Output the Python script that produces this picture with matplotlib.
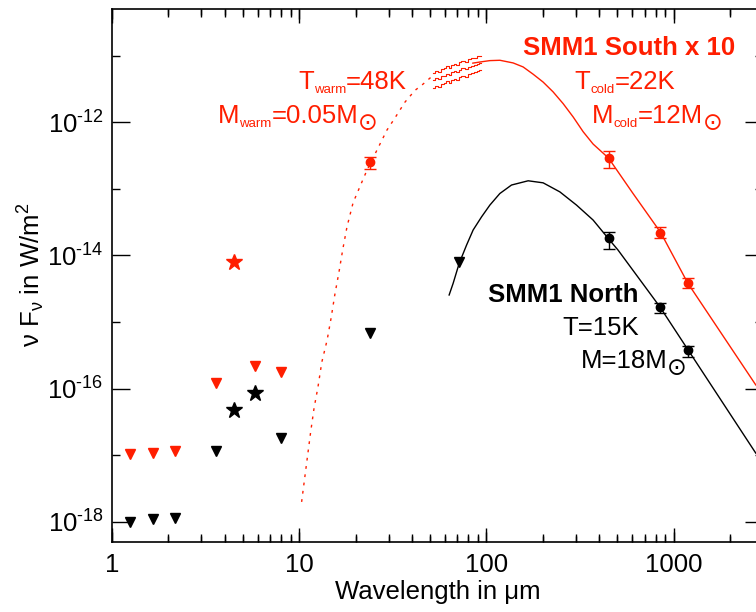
import matplotlib
matplotlib.use("Agg")
import matplotlib.pyplot as plt
import matplotlib.transforms as mtransforms
from matplotlib.ticker import NullFormatter, FixedLocator
import numpy as np

plt.rcParams['font.family'] = ['Liberation Sans', 'DejaVu Sans']
plt.rcParams['mathtext.fontset'] = 'custom'
plt.rcParams['mathtext.rm'] = 'Liberation Sans'
plt.rcParams['mathtext.it'] = 'Liberation Sans:italic'
plt.rcParams['mathtext.bf'] = 'Liberation Sans:bold'

RED = '#ff1e00'

# upper limits (downward triangles)
lim_wave_N = [1.25, 1.65, 2.17, 3.6, 8.0, 24.0, 71.0]
lim_flux_N = [1.0e-18, 1.1e-18, 1.15e-18, 1.15e-17, 1.85e-17, 6.9e-16, 7.9e-15]
lim_wave_S = [1.25, 1.65, 2.17, 3.6, 5.8, 8.0]
lim_flux_S = [1.05e-17, 1.1e-17, 1.15e-17, 1.2e-16, 2.2e-16, 1.8e-16]

# detections shown as stars
star_wave_N = [4.5, 5.8]
star_flux_N = [4.8e-17, 8.5e-17]
star_wave_S = [4.5]
star_flux_S = [8.0e-15]

# photometry with error bars
phot_wave_S = [24.0, 450.0, 850.0, 1200.0]
phot_flux_S = [2.5e-13, 2.9e-13, 2.2e-14, 3.9e-15]
phot_lo_S = [1.97e-13, 2.05e-13, 1.82e-14, 3.2e-15]
phot_hi_S = [3.0e-13, 3.7e-13, 2.67e-14, 4.6e-15]
phot_wave_N = [450.0, 850.0, 1200.0]
phot_flux_N = [1.8e-14, 1.67e-15, 3.8e-16]
phot_lo_N = [1.26e-14, 1.39e-15, 3.0e-16]
phot_hi_N = [2.24e-14, 1.95e-15, 4.4e-16]

# model curves
warm_wave = [10.3, 10.7, 11.1, 11.5, 12.0, 12.6, 13.2, 14.1, 14.8, 15.5, 16.3, 17.1,
             18.0, 19.4, 21.6, 23.0, 26.0, 29.4, 32.4, 36.7, 41.5, 45.7, 51.7]
warm_flux = [2.0e-18, 4.6e-18, 1.02e-17, 2.2e-17, 5.1e-17, 1.07e-16, 2.5e-16, 5.4e-16,
             1.15e-15, 2.6e-15, 5.6e-15, 1.25e-14, 2.7e-14, 6.2e-14, 1.26e-13, 1.9e-13,
             3.8e-13, 7.6e-13, 1.15e-12, 2.0e-12, 3.0e-12, 3.7e-12, 5.0e-12]
cold_wave = [84.6, 92.2, 104.3, 118, 138.9, 157, 177.6, 200.8, 227, 256.8, 290.4, 328.4,
             371.2, 448.6, 605, 853, 1189, 2744]
cold_flux = [7.7e-12, 8.0e-12, 8.4e-12, 8.5e-12, 7.75e-12, 6.75e-12, 5.25e-12, 4.0e-12,
             2.85e-12, 1.9e-12, 1.2e-12, 7.2e-13, 4.7e-13, 2.9e-13, 8.6e-14, 2.2e-14,
             3.85e-15, 1.14e-16]
north_wave = [63.2, 66.4, 71.5, 78.3, 84.9, 94.2, 104.3, 117.9, 136.1, 167.0, 200.8, 246.6,
              302.7, 371.2, 450.3, 505, 843, 1194, 2744]
north_flux = [2.55e-15, 3.82e-15, 7.6e-15, 1.43e-14, 2.41e-14, 3.8e-14, 5.7e-14, 8.5e-14,
              1.14e-13, 1.32e-13, 1.23e-13, 9.0e-14, 5.7e-14, 3.4e-14, 1.76e-14, 1.2e-14,
              1.70e-15, 3.82e-16, 1.08e-17]

# ISO spectrum (mean and bounds)
iso_wave = [52, 54, 56, 58, 60, 62, 64, 66, 68, 70, 72, 75, 78, 81, 84, 87, 90, 93]
iso_mid = [4.3e-12, 4.6e-12, 4.4e-12, 4.9e-12, 5.0e-12, 5.3e-12, 5.1e-12, 5.6e-12, 5.8e-12,
           5.6e-12, 6.1e-12, 6.4e-12, 6.2e-12, 6.8e-12, 7.0e-12, 7.2e-12, 7.5e-12, 7.7e-12]
iso_hi = [5.4e-12, 5.9e-12, 5.6e-12, 6.3e-12, 6.4e-12, 6.9e-12, 6.6e-12, 7.3e-12, 7.6e-12,
          7.3e-12, 8.0e-12, 8.4e-12, 8.1e-12, 8.9e-12, 9.2e-12, 9.3e-12, 9.7e-12, 9.9e-12]
iso_lo = [3.3e-12, 3.5e-12, 3.4e-12, 3.8e-12, 3.9e-12, 4.1e-12, 3.9e-12, 4.3e-12, 4.5e-12,
          4.3e-12, 4.7e-12, 5.0e-12, 4.8e-12, 5.3e-12, 5.4e-12, 5.6e-12, 5.8e-12, 6.0e-12]

x_major = [1, 10, 100, 1000]
x_labels = ['1', '10', '100', '1000']
x_minor = [m * d for d in (1, 10, 100, 1000) for m in range(2, 10) if m * d < 3000]
y_major = [1e-18, 1e-16, 1e-14, 1e-12]
y_exp = ['18', '16', '14', '12']
y_minor = [1e-17, 1e-15, 1e-13, 1e-11]

W, H = 756, 612
fig = plt.figure(figsize=(W / 100, H / 100), dpi=100)
ax = fig.add_axes([112 / W, 1 - 542 / H, 651 / W, 533 / H])

# model curves
ax.plot(warm_wave, warm_flux, color=RED, lw=1.0, dashes=(2, 4))
ax.plot(cold_wave, cold_flux, color=RED, lw=1.0)
ax.plot(north_wave, north_flux, color='black', lw=1.0)
for f in (iso_mid, iso_hi, iso_lo):
    ax.plot(iso_wave, f, color=RED, lw=0.8, drawstyle='steps-mid')

# upper limits and stars
ax.plot(lim_wave_N, lim_flux_N, 'v', color='black', ms=7, ls='none')
ax.plot(lim_wave_S, lim_flux_S, 'v', color=RED, ms=7, ls='none')
ax.plot(star_wave_N, star_flux_N, '*', color='black', ms=12, ls='none')
ax.plot(star_wave_S, star_flux_S, '*', color=RED, ms=12, ls='none')

# photometry
yerr_S = [np.array(phot_flux_S) - np.array(phot_lo_S), np.array(phot_hi_S) - np.array(phot_flux_S)]
yerr_N = [np.array(phot_flux_N) - np.array(phot_lo_N), np.array(phot_hi_N) - np.array(phot_flux_N)]
ax.errorbar(phot_wave_S, phot_flux_S, yerr=yerr_S, fmt='o', color=RED, ms=6, capsize=4, elinewidth=1, capthick=1)
ax.errorbar(phot_wave_N, phot_flux_N, yerr=yerr_N, fmt='o', color='black', ms=6, capsize=4, elinewidth=1, capthick=1)

ax.set_xscale('log')
ax.set_yscale('log')

ax.set_xticks(x_major)
ax.set_xticklabels(x_labels)
ax.xaxis.set_minor_locator(FixedLocator(x_minor))
ax.xaxis.set_minor_formatter(NullFormatter())
ax.set_yticks(y_major)
ax.set_yticklabels(['10$^{\\mathrm{\u2010' + e + '}}$' for e in y_exp])
ax.yaxis.set_minor_locator(FixedLocator(y_minor))
ax.yaxis.set_minor_formatter(NullFormatter())
ax.set_xlim(1, 3000)
ax.set_ylim(5e-19, 5e-11)
ax.tick_params(which='both', direction='in', top=True, right=True, labelsize=18.5, width=1)
ax.xaxis.set_tick_params(which='major', length=10, pad=8)
ax.xaxis.set_tick_params(which='minor', length=6)
ax.yaxis.set_tick_params(which='major', length=13, pad=6)
ax.yaxis.set_tick_params(which='minor', length=6)
for s in ax.spines.values():
    s.set_linewidth(1.2)

# x tick marks drawn explicitly (bottom and top) so they always show
blend = mtransforms.blended_transform_factory(ax.transData, ax.transAxes)
maj_len = 10 / 533
min_len = 6 / 533
ax.vlines(x_major, 0, maj_len, transform=blend, color='black', lw=1, clip_on=False)
ax.vlines(x_major, 1 - maj_len, 1, transform=blend, color='black', lw=1, clip_on=False)
ax.vlines(x_minor, 0, min_len, transform=blend, color='black', lw=1, clip_on=False)
ax.vlines(x_minor, 1 - min_len, 1, transform=blend, color='black', lw=1, clip_on=False)
ax.set_xlim(1, 3000)
ax.set_ylim(5e-19, 5e-11)

ax.set_xlabel('Wavelength in μm', fontsize=18.5, labelpad=2)
fig.text(31 / W, 1 - 275 / H, r'ν F$_{\mathrm{ν}}$ in W/m$^{\mathrm{2}}$', fontsize=18.5,
         rotation=90, ha='center', va='center')

renderer = fig.canvas.get_renderer()


def rich(x_right, y_base, pieces, color):
    # pieces: (text, fontsize, shift down in px, extra kwargs)
    arts = []
    total = 0
    for txt, size, dy, kw in pieces:
        t = fig.text(0, 0, txt, fontsize=size, color=color, ha='left', va='baseline', **kw)
        w = t.get_window_extent(renderer).width
        arts.append((t, w, dy))
        total += w
    x = x_right - total
    for t, w, dy in arts:
        t.set_position((x / W, 1 - (y_base + dy) / H))
        x += w


fs = 18.5
sub = 9.5
sun = ('\u2299', 17, 7, {'family': 'DejaVu Sans'})
rich(735, 55, [('SMM1 South x 10', fs, 0, {'fontweight': 'bold'})], RED)
rich(675, 89, [('T', fs, 0, {}), ('cold', sub, 4, {}), ('=22K', fs, 0, {})], RED)
rich(723, 123, [('M', fs, 0, {}), ('cold', sub, 4, {}), ('=12M', fs, 0, {}), sun], RED)
rich(407, 89, [('T', fs, 0, {}), ('warm', sub, 4, {}), ('=48K', fs, 0, {})], RED)
rich(378, 123, [('M', fs, 0, {}), ('warm', sub, 4, {}), ('=0.05M', fs, 0, {}), sun], RED)
rich(639, 302, [('SMM1 North', fs, 0, {'fontweight': 'bold'})], 'black')
rich(639, 335, [('T=15K', fs, 0, {})], 'black')
rich(687, 368, [('M=18M', fs, 0, {}), sun], 'black')

fig.savefig('out.png', dpi=100)
